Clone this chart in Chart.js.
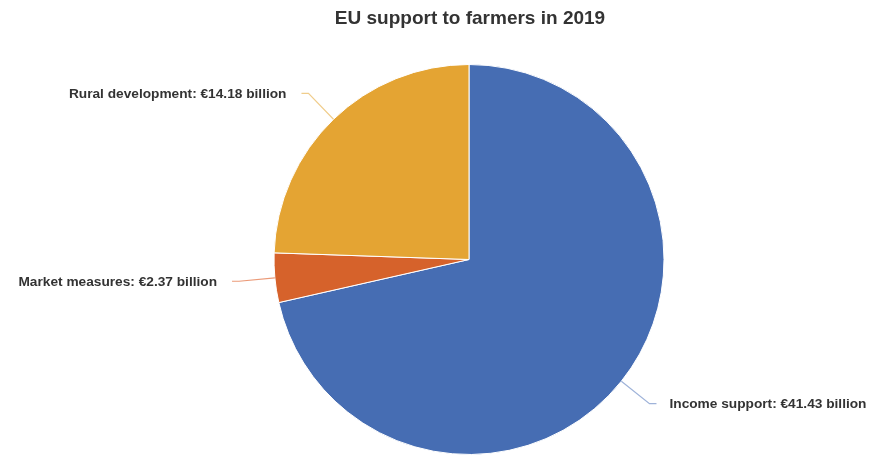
<!DOCTYPE html>
<html lang="en">
<head>
    <meta charset="UTF-8">
    <title>EU support to farmers in 2019</title>
    <script src="https://cdn.jsdelivr.net/npm/chart.js"></script>
    <style>
        html, body { margin: 0; padding: 0; background: #fff; }
        #wrap { width: 869px; height: 455px; }
    </style>
</head>
<body>
    <div id="wrap"><canvas id="pie"></canvas></div>

    <script>
        const categories = ['Income support', 'Market measures', 'Rural development']
        const amounts = [41.43, 2.37, 14.18]
        const sliceColors = ['#466db3', '#d6622b', '#e4a433']
        const lineColors = ['#9fb3d9', '#eb9a78', '#f0cd8c']

        // labels with leader lines, placed from the arc geometry
        const leaderLabels = {
            id: 'leaderLabels',
            afterDraw(chart) {
                const ctx = chart.ctx
                const meta = chart.getDatasetMeta(0)
                ctx.save()
                ctx.font = 'bold 19px "Liberation Sans", Arial, sans-serif'
                ctx.fillStyle = '#333'
                ctx.textAlign = 'center'
                ctx.textBaseline = 'middle'
                ctx.fillText('EU support to farmers in 2019', 470, 19)

                ctx.font = 'bold 13.7px "Liberation Sans", Arial, sans-serif'
                meta.data.forEach((arc, i) => {
                    const mid = (arc.startAngle + arc.endAngle) / 2
                    const r = arc.outerRadius
                    const cos = Math.cos(mid), sin = Math.sin(mid)
                    const x0 = arc.x + cos * r, y0 = arc.y + sin * r
                    const x1 = arc.x + cos * (r + 36), y1 = arc.y + sin * (r + 36)
                    const right = cos >= 0
                    const x2 = x1 + (right ? 7 : -7)
                    ctx.strokeStyle = lineColors[i]
                    ctx.lineWidth = 1.2
                    ctx.beginPath()
                    ctx.moveTo(x0, y0)
                    ctx.lineTo(x1, y1)
                    ctx.lineTo(x2, y1)
                    ctx.stroke()
                    ctx.fillStyle = '#333'
                    ctx.textAlign = right ? 'left' : 'right'
                    const text = categories[i] + ': €' + amounts[i].toFixed(2) + ' billion'
                    ctx.fillText(text, x2 + (right ? 13 : -15), y1 + 1)
                })
                ctx.restore()
            }
        }

        new Chart(document.getElementById('pie'), {
            type: 'pie',
            data: {
                labels: categories,
                datasets: [{
                    data: amounts,
                    backgroundColor: sliceColors,
                    borderColor: '#ffffff',
                    borderWidth: 1
                }]
            },
            options: {
                responsive: true,
                maintainAspectRatio: false,
                animation: false,
                layout: { padding: { left: 273, right: 204, top: 64, bottom: 0 } },
                plugins: {
                    legend: { display: false },
                    title: { display: false },
                    tooltip: { enabled: false }
                }
            },
            plugins: [leaderLabels]
        })
    </script>
</body>
</html>
